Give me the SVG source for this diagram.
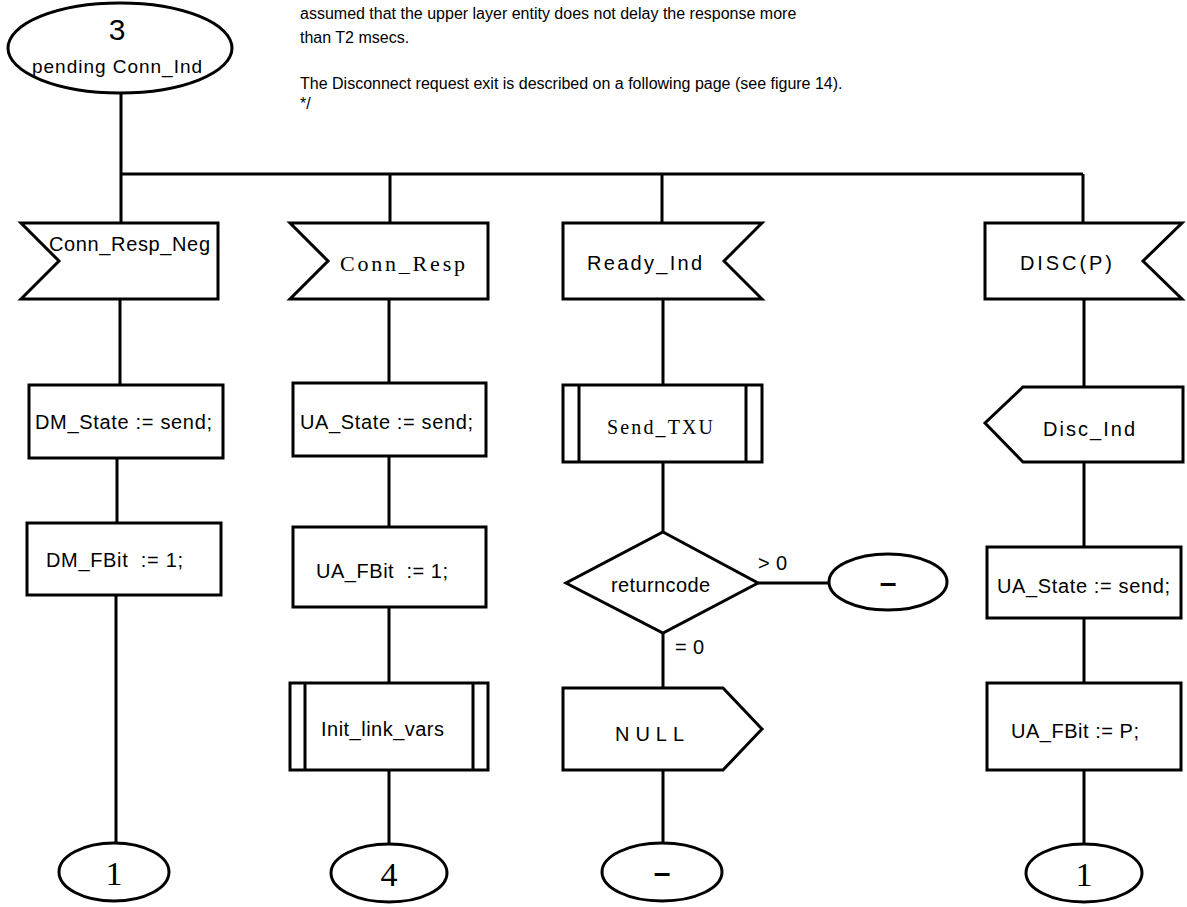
<svg xmlns="http://www.w3.org/2000/svg" width="1187" height="907" viewBox="0 0 1187 907">
<style>
.s{fill:#fff;stroke:#000;stroke-width:3;stroke-linejoin:miter}
.l{fill:none;stroke:#000;stroke-width:3}
.t{font-family:"Liberation Sans",Arial,sans-serif;font-size:20px;fill:#000}
.r{font-family:"Liberation Serif","Times New Roman",serif;font-size:22px;fill:#000}
.c{font-family:"Liberation Sans",Arial,sans-serif;font-size:16px;fill:#000}
</style>
<rect width="1187" height="907" fill="#fff"/>
<g id="comment">
<text class="c" x="300" y="19">assumed that the upper layer entity does not delay the response more</text>
<text class="c" x="300" y="43">than T2 msecs.</text>
<text class="c" x="300" y="89">The Disconnect request exit is described on a following page (see figure 14).</text>
<text class="c" x="300" y="109">*/</text>
</g>
<g id="connectors">
<path class="l" d="M121,93 V174 M121,174 H1083 M121,174 V223 M390,174 V223 M662,174 V223 M1083,174 V223"/>
<path class="l" d="M120,299 V385 M117,458 V523 M116,595 V843"/>
<path class="l" d="M389,299 V383 M389,456 V527 M389,607 V683 M389,770 V844"/>
<path class="l" d="M663,299 V385 M663,462 V532 M663,633 V688 M663,770 V843 M758,583 H829"/>
<path class="l" d="M1084,299 V387 M1084,462 V547 M1084,618 V683 M1084,770 V844"/>
</g>
<g id="state3">
<ellipse class="s" cx="120" cy="48" rx="112" ry="45"/>
<text class="t" x="117" y="40" text-anchor="middle" style="font-size:30px">3</text>
<text class="t" x="32" y="73" style="font-size:19px" textLength="170">pending Conn_Ind</text>
</g>
<g id="in_conn_resp_neg">
<path class="s" d="M21,223 H218 V299 H21 L59,261 Z"/>
<text class="t" x="49" y="251" textLength="161">Conn_Resp_Neg</text>
</g>
<g id="task_dm_state">
<rect class="s" x="29" y="385" width="194" height="73"/>
<text class="t" x="35" y="429" textLength="177">DM_State := send;</text>
</g>
<g id="task_dm_fbit">
<rect class="s" x="27" y="523" width="194" height="72"/>
<text class="t" x="46" y="567" textLength="137" xml:space="preserve">DM_FBit  := 1;</text>
</g>
<g id="join_1a">
<ellipse class="s" cx="114" cy="872" rx="55" ry="29"/>
<text class="r" x="114" y="885" text-anchor="middle" style="font-size:34px">1</text>
</g>
<g id="in_conn_resp">
<path class="s" d="M290,223 H488 V299 H290 L328,261 Z"/>
<text class="r" x="340" y="271" textLength="125">Conn_Resp</text>
</g>
<g id="task_ua_state">
<rect class="s" x="293" y="383" width="193" height="73"/>
<text class="t" x="300" y="429" textLength="173">UA_State := send;</text>
</g>
<g id="task_ua_fbit">
<rect class="s" x="293" y="527" width="193" height="80"/>
<text class="t" x="316" y="578" textLength="132" xml:space="preserve">UA_FBit  := 1;</text>
</g>
<g id="proc_init_link_vars">
<rect class="s" x="290" y="683" width="198" height="87"/>
<path class="l" d="M305,683 V770 M473,683 V770"/>
<text class="t" x="321" y="736" textLength="123">Init_link_vars</text>
</g>
<g id="join_4">
<ellipse class="s" cx="389" cy="873" rx="58" ry="29"/>
<text class="r" x="389" y="886" text-anchor="middle" style="font-size:34px">4</text>
</g>
<g id="in_ready_ind">
<path class="s" d="M563,223 H762 L724,261 L762,299 H563 Z"/>
<text class="t" x="587" y="270" textLength="115">Ready_Ind</text>
</g>
<g id="proc_send_txu">
<rect class="s" x="563" y="385" width="199" height="77"/>
<path class="l" d="M579,385 V462 M746,385 V462"/>
<text class="r" x="607" y="434" style="font-size:20px" textLength="106">Send_TXU</text>
</g>
<g id="dec_returncode">
<path class="s" d="M663,532 L758,583 L663,633 L566,583 Z"/>
<text class="t" x="611" y="592" textLength="99">returncode</text>
<text class="t" x="758" y="570" xml:space="preserve" textLength="29">&gt; 0</text>
<text class="t" x="675" y="654" xml:space="preserve" textLength="29">= 0</text>
</g>
<g id="state_dash_a">
<ellipse class="s" cx="888" cy="582" rx="59" ry="28"/>
<text class="t" x="888" y="593" text-anchor="middle" style="font-size:30px;font-weight:bold">–</text>
</g>
<g id="out_null">
<path class="s" d="M563,688 H723 L762,729 L723,770 H563 Z"/>
<text class="t" x="615" y="741" textLength="69">NULL</text>
</g>
<g id="state_dash_b">
<ellipse class="s" cx="662" cy="872" rx="60" ry="29"/>
<text class="t" x="662" y="883" text-anchor="middle" style="font-size:30px;font-weight:bold">–</text>
</g>
<g id="in_disc_p">
<path class="s" d="M985,223 H1182 L1143,261 L1182,299 H985 Z"/>
<text class="t" x="1020" y="270" textLength="92">DISC(P)</text>
</g>
<g id="out_disc_ind">
<path class="s" d="M1023,387 H1183 V462 H1023 L985,423 Z"/>
<text class="t" x="1043" y="436" textLength="92">Disc_Ind</text>
</g>
<g id="task_ua_state_b">
<rect class="s" x="987" y="547" width="194" height="71"/>
<text class="t" x="997" y="593" textLength="173">UA_State := send;</text>
</g>
<g id="task_ua_fbit_p">
<rect class="s" x="987" y="683" width="194" height="87"/>
<text class="t" x="1011" y="738" textLength="128">UA_FBit := P;</text>
</g>
<g id="join_1b">
<ellipse class="s" cx="1084" cy="873" rx="58" ry="29"/>
<text class="r" x="1084" y="886" text-anchor="middle" style="font-size:34px">1</text>
</g>
</svg>
